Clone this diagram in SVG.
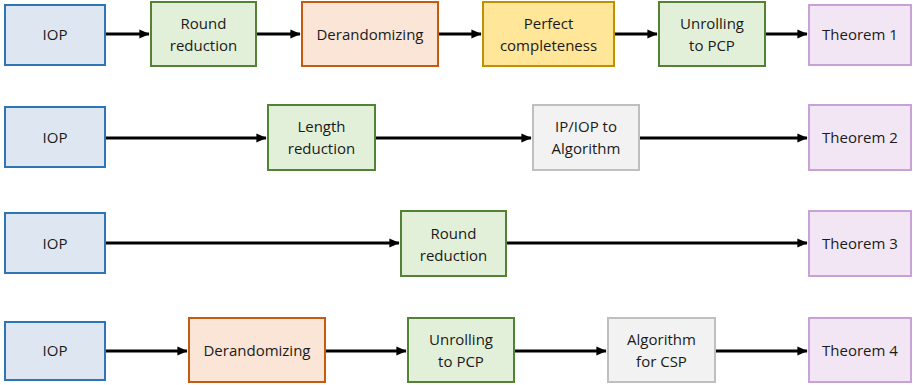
<svg xmlns="http://www.w3.org/2000/svg" width="913" height="385" viewBox="0 0 913 385">
<style>
rect{stroke-width:2}
.b{fill:#DEE7F1;stroke:#2E75B6}
.g{fill:#E2F0D9;stroke:#548235}
.o{fill:#FBE5D6;stroke:#C55A11}
.y{fill:#FFE699;stroke:#BF9000}
.r{fill:#F2F2F2;stroke:#BFBFBF}
.p{fill:#F2E6F4;stroke:#C8A2D6}
text{font-family:"Open Sans","Liberation Sans",sans-serif;font-size:15px;fill:#1a1a1a;text-anchor:middle}
.c line{stroke:#000;stroke-width:3;marker-end:url(#a)}
</style>
<defs>
<marker id="a" markerWidth="4" markerHeight="4" refX="3.2" refY="2" orient="auto" markerUnits="strokeWidth"><path d="M0,0.5 L3.4,2 L0,3.5 z" fill="#000"/></marker>
</defs>
<g id="r1iop"><rect class="b" x="5" y="5" width="100" height="60"/><text x="55" y="40">IOP</text></g>
<g id="r1round"><rect class="g" x="151" y="2" width="105" height="64"/><text x="203.5" y="29">Round</text><text x="203.5" y="51">reduction</text></g>
<g id="r1derand"><rect class="o" x="302" y="2" width="136" height="64"/><text x="370" y="40">Derandomizing</text></g>
<g id="r1perfect"><rect class="y" x="483" y="2" width="131" height="64"/><text x="548.5" y="29">Perfect</text><text x="548.5" y="51">completeness</text></g>
<g id="r1unroll"><rect class="g" x="659" y="2" width="106" height="64"/><text x="712" y="29">Unrolling</text><text x="712" y="51">to PCP</text></g>
<g id="r1thm"><rect class="p" x="809" y="5" width="102" height="60"/><text x="860" y="40">Theorem 1</text></g>

<g id="r2iop"><rect class="b" x="5" y="107" width="100" height="60"/><text x="55" y="143">IOP</text></g>
<g id="r2length"><rect class="g" x="268" y="105" width="107" height="65"/><text x="321.5" y="132">Length</text><text x="321.5" y="154">reduction</text></g>
<g id="r2alg"><rect class="r" x="533" y="105" width="106" height="65"/><text x="586" y="132">IP/IOP to</text><text x="586" y="154">Algorithm</text></g>
<g id="r2thm"><rect class="p" x="809" y="105" width="102" height="65"/><text x="860" y="143">Theorem 2</text></g>

<g id="r3iop"><rect class="b" x="5" y="213" width="100" height="60"/><text x="55" y="249">IOP</text></g>
<g id="r3round"><rect class="g" x="401" y="211" width="105" height="65"/><text x="453.5" y="239">Round</text><text x="453.5" y="261">reduction</text></g>
<g id="r3thm"><rect class="p" x="809" y="211" width="102" height="65"/><text x="860" y="249">Theorem 3</text></g>

<g id="r4iop"><rect class="b" x="5" y="322" width="100" height="58"/><text x="55" y="356">IOP</text></g>
<g id="r4derand"><rect class="o" x="189" y="318" width="136" height="64"/><text x="257" y="356">Derandomizing</text></g>
<g id="r4unroll"><rect class="g" x="408" y="318" width="106" height="64"/><text x="461" y="345">Unrolling</text><text x="461" y="367">to PCP</text></g>
<g id="r4alg"><rect class="r" x="608" y="318" width="107" height="64"/><text x="661.5" y="345">Algorithm</text><text x="661.5" y="367">for CSP</text></g>
<g id="r4thm"><rect class="p" x="809" y="318" width="102" height="64"/><text x="860" y="356">Theorem 4</text></g>

<g class="c" id="connectors">
<line x1="106" y1="34" x2="149" y2="34"/>
<line x1="257" y1="34" x2="300" y2="34"/>
<line x1="439" y1="34" x2="481" y2="34"/>
<line x1="615" y1="34" x2="657" y2="34"/>
<line x1="766" y1="34" x2="807" y2="34"/>
<line x1="106" y1="138" x2="266" y2="138"/>
<line x1="376" y1="138" x2="531" y2="138"/>
<line x1="640" y1="138" x2="807" y2="138"/>
<line x1="106" y1="243" x2="399" y2="243"/>
<line x1="507" y1="243" x2="807" y2="243"/>
<line x1="106" y1="351" x2="187" y2="351"/>
<line x1="326" y1="351" x2="406" y2="351"/>
<line x1="515" y1="351" x2="606" y2="351"/>
<line x1="716" y1="351" x2="807" y2="351"/>
</g>
</svg>
